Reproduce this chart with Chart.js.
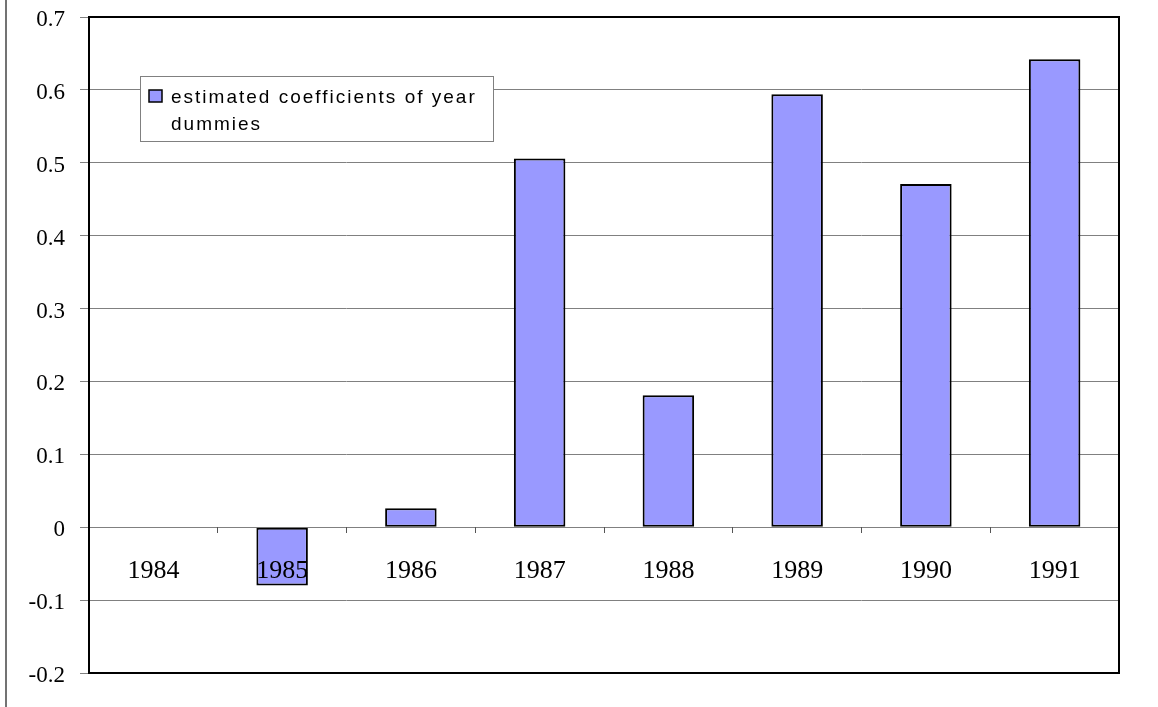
<!DOCTYPE html>
<html>
<head>
<meta charset="utf-8">
<script src="https://cdn.jsdelivr.net/npm/chart.js@4"></script>
<style>
  html, body { margin: 0; padding: 0; background: #fff; }
  #wrap { width: 1158px; height: 707px; position: relative; }
</style>
</head>
<body>
<div id="wrap"><canvas id="c" width="1158" height="707"></canvas></div>
<script>
// Year categories and the estimated year-dummy coefficients
const years = ['1984', '1985', '1986', '1987', '1988', '1989', '1990', '1991'];
const coefficients = [0, -0.08, 0.026, 0.506, 0.181, 0.594, 0.471, 0.642];
const seriesLabel = 'estimated coefficients of year dummies';
const yTickLabels = ['-0.2', '-0.1', '0', '0.1', '0.2', '0.3', '0.4', '0.5', '0.6', '0.7'];
const yMin = -0.2, yMax = 0.7, yStep = 0.1;

const BAR_FILL = '#9999FF';
const GRID = '#808080';

// Frame around the plot area plus the outer edge line on the left
const framePlugin = {
  id: 'frame',
  afterDraw(chart) {
    const { ctx, chartArea: a } = chart;
    ctx.save();
    ctx.strokeStyle = '#000';
    ctx.lineWidth = 2;
    ctx.strokeRect(a.left, a.top, a.right - a.left, a.bottom - a.top);
    ctx.strokeStyle = '#444';
    ctx.lineWidth = 1.5;
    ctx.beginPath();
    ctx.moveTo(6, 0);
    ctx.lineTo(6, chart.height);
    ctx.stroke();
    ctx.restore();
  }
};

// Boxed legend inside the plot area, with the label wrapped onto two lines
const boxLegendPlugin = {
  id: 'boxLegend',
  afterDraw(chart, args, opts) {
    const { ctx } = chart;
    const ds = chart.data.datasets[0];
    const x = opts.x, y = opts.y, w = opts.width, h = opts.height;
    ctx.save();
    ctx.fillStyle = '#fff';
    ctx.fillRect(x, y, w, h);
    ctx.strokeStyle = GRID;
    ctx.lineWidth = 1;
    ctx.strokeRect(x + 0.5, y + 0.5, w, h);

    // marker
    ctx.fillStyle = ds.backgroundColor;
    ctx.fillRect(x + 9, y + 14, 13, 12);
    ctx.strokeStyle = '#000';
    ctx.lineWidth = 1.5;
    ctx.strokeRect(x + 9, y + 14, 13, 12);

    // wrapped text
    ctx.font = opts.font;
    if ('letterSpacing' in ctx) ctx.letterSpacing = opts.letterSpacing;
    ctx.fillStyle = '#000';
    ctx.textBaseline = 'alphabetic';
    const words = ds.label.split(' ');
    const lines = [];
    let cur = '';
    for (const wd of words) {
      const test = cur ? cur + ' ' + wd : wd;
      if (ctx.measureText(test).width > opts.textWidth && cur) {
        lines.push(cur);
        cur = wd;
      } else {
        cur = test;
      }
    }
    if (cur) lines.push(cur);
    lines.forEach((ln, i) => ctx.fillText(ln, x + 31, y + 27 + i * 27));
    ctx.restore();
  }
};

new Chart(document.getElementById('c'), {
  type: 'bar',
  data: {
    labels: years,
    datasets: [{
      label: seriesLabel,
      data: coefficients,
      backgroundColor: BAR_FILL,
      borderColor: '#000',
      borderWidth: 2,
      borderSkipped: false,
      barPercentage: 0.4,
      categoryPercentage: 1.0
    }]
  },
  options: {
    responsive: false,
    animation: false,
    layout: { padding: { left: 0, top: 17, right: 39, bottom: 34 } },
    plugins: {
      legend: { display: false },
      tooltip: { enabled: false },
      boxLegend: {
        x: 140, y: 76, width: 353, height: 65,
        font: '19px "Liberation Sans", Arial, sans-serif',
        letterSpacing: '2px',
        textWidth: 330
      }
    },
    scales: {
      x: {
        position: { y: 0 },
        afterFit(scale) { scale.height = 0; },
        grid: {
          offset: true,
          drawOnChartArea: false,
          drawTicks: true,
          tickLength: 6,
          color: '#555',
          lineWidth: 1,
          z: 1
        },
        border: { display: false },
        ticks: {
          z: 1,
          color: '#000',
          padding: 22,
          maxRotation: 0,
          font: { family: '"Liberation Serif", "Times New Roman", serif', size: 26 }
        }
      },
      y: {
        min: yMin,
        max: yMax,
        afterFit(scale) {
          scale.width = 89;
          scale.paddingTop = 0;
          scale.paddingBottom = 0;
        },
        afterBuildTicks(scale) {
          scale.ticks = yTickLabels.map((t, i) => ({ value: yMin + i * yStep }));
        },
        grid: {
          color: GRID,
          lineWidth: 1,
          drawTicks: true,
          tickLength: 9
        },
        border: { display: false },
        ticks: {
          color: '#000',
          padding: 15,
          labelOffset: 3,
          font: { family: '"Liberation Serif", "Times New Roman", serif', size: 23 },
          callback: (v, i) => yTickLabels[i]
        }
      }
    }
  },
  plugins: [framePlugin, boxLegendPlugin]
});
</script>
</body>
</html>
